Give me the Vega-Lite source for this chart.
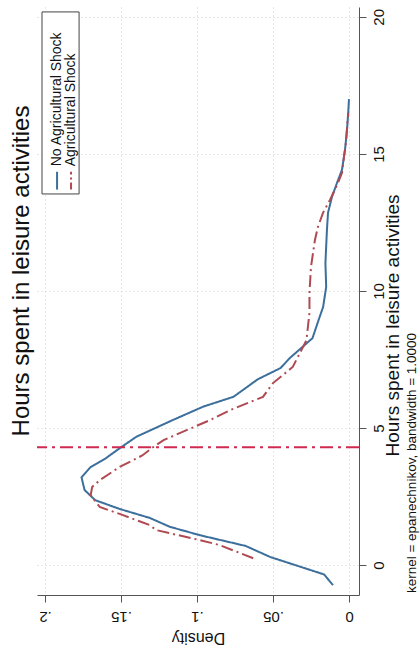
{
  "$schema": "https://vega.github.io/schema/vega-lite/v6.json",
  "width": 322,
  "height": 588,
  "autosize": {"type": "none"},
  "padding": {"left": 37, "top": 7, "right": 61, "bottom": 52},
  "background": "white",
  "title": {
    "text": "Hours spent in leisure activities",
    "orient": "left",
    "anchor": "middle",
    "font": "Liberation Sans",
    "fontSize": 24,
    "fontWeight": "normal",
    "color": "#111111",
    "offset": 2,
    "dx": 30
  },
  "config": {
    "view": {"stroke": null},
    "font": "Liberation Sans",
    "axis": {
      "labelFont": "Liberation Sans",
      "titleFont": "Liberation Sans",
      "labelColor": "#111111",
      "titleColor": "#111111",
      "titleFontWeight": "normal",
      "domainColor": "#555555",
      "tickColor": "#555555",
      "gridColor": "#cfcfcf",
      "gridDash": [1, 3],
      "gridWidth": 1,
      "labelFlush": false,
      "labelOverlap": false
    }
  },
  "datasets": {
    "curves": [
      {"series": "No Agricultural Shock", "hours": -0.73, "density": 0.0105},
      {"series": "No Agricultural Shock", "hours": -0.34, "density": 0.0164},
      {"series": "No Agricultural Shock", "hours": 0.3, "density": 0.052},
      {"series": "No Agricultural Shock", "hours": 0.7, "density": 0.068},
      {"series": "No Agricultural Shock", "hours": 1.09, "density": 0.098},
      {"series": "No Agricultural Shock", "hours": 1.4, "density": 0.118},
      {"series": "No Agricultural Shock", "hours": 1.72, "density": 0.131},
      {"series": "No Agricultural Shock", "hours": 2.05, "density": 0.151},
      {"series": "No Agricultural Shock", "hours": 2.37, "density": 0.167},
      {"series": "No Agricultural Shock", "hours": 2.74, "density": 0.174},
      {"series": "No Agricultural Shock", "hours": 3.2, "density": 0.176},
      {"series": "No Agricultural Shock", "hours": 3.58, "density": 0.17},
      {"series": "No Agricultural Shock", "hours": 3.9, "density": 0.16},
      {"series": "No Agricultural Shock", "hours": 4.26, "density": 0.151},
      {"series": "No Agricultural Shock", "hours": 4.68, "density": 0.14},
      {"series": "No Agricultural Shock", "hours": 5.29, "density": 0.116},
      {"series": "No Agricultural Shock", "hours": 5.78, "density": 0.096},
      {"series": "No Agricultural Shock", "hours": 6.14, "density": 0.076},
      {"series": "No Agricultural Shock", "hours": 6.78, "density": 0.06},
      {"series": "No Agricultural Shock", "hours": 7.19, "density": 0.045},
      {"series": "No Agricultural Shock", "hours": 7.55, "density": 0.039},
      {"series": "No Agricultural Shock", "hours": 8.28, "density": 0.024},
      {"series": "No Agricultural Shock", "hours": 8.94, "density": 0.02},
      {"series": "No Agricultural Shock", "hours": 9.42, "density": 0.017},
      {"series": "No Agricultural Shock", "hours": 10.15, "density": 0.015},
      {"series": "No Agricultural Shock", "hours": 11.02, "density": 0.0155},
      {"series": "No Agricultural Shock", "hours": 12.23, "density": 0.0145},
      {"series": "No Agricultural Shock", "hours": 12.85, "density": 0.0138},
      {"series": "No Agricultural Shock", "hours": 13.43, "density": 0.0112},
      {"series": "No Agricultural Shock", "hours": 13.94, "density": 0.0079},
      {"series": "No Agricultural Shock", "hours": 14.42, "density": 0.0046},
      {"series": "No Agricultural Shock", "hours": 15.15, "density": 0.0026},
      {"series": "No Agricultural Shock", "hours": 15.88, "density": 0.0013},
      {"series": "No Agricultural Shock", "hours": 16.5, "density": 0.0005},
      {"series": "No Agricultural Shock", "hours": 17.0, "density": 0.0},
      {"series": "Agricultural Shock", "hours": 0.25, "density": 0.063},
      {"series": "Agricultural Shock", "hours": 0.73, "density": 0.085},
      {"series": "Agricultural Shock", "hours": 0.91, "density": 0.098},
      {"series": "Agricultural Shock", "hours": 1.28, "density": 0.127},
      {"series": "Agricultural Shock", "hours": 1.46, "density": 0.131},
      {"series": "Agricultural Shock", "hours": 1.58, "density": 0.137},
      {"series": "Agricultural Shock", "hours": 1.85, "density": 0.15},
      {"series": "Agricultural Shock", "hours": 2.12, "density": 0.164},
      {"series": "Agricultural Shock", "hours": 2.55, "density": 0.17},
      {"series": "Agricultural Shock", "hours": 2.85, "density": 0.169},
      {"series": "Agricultural Shock", "hours": 3.1, "density": 0.164},
      {"series": "Agricultural Shock", "hours": 3.58, "density": 0.151},
      {"series": "Agricultural Shock", "hours": 4.0, "density": 0.136},
      {"series": "Agricultural Shock", "hours": 4.26, "density": 0.13},
      {"series": "Agricultural Shock", "hours": 4.56, "density": 0.122},
      {"series": "Agricultural Shock", "hours": 5.11, "density": 0.099},
      {"series": "Agricultural Shock", "hours": 5.29, "density": 0.0914},
      {"series": "Agricultural Shock", "hours": 5.66, "density": 0.078},
      {"series": "Agricultural Shock", "hours": 6.14, "density": 0.0566},
      {"series": "Agricultural Shock", "hours": 6.64, "density": 0.05},
      {"series": "Agricultural Shock", "hours": 7.23, "density": 0.037},
      {"series": "Agricultural Shock", "hours": 8.2, "density": 0.028},
      {"series": "Agricultural Shock", "hours": 9.2, "density": 0.026},
      {"series": "Agricultural Shock", "hours": 9.93, "density": 0.026},
      {"series": "Agricultural Shock", "hours": 10.88, "density": 0.025},
      {"series": "Agricultural Shock", "hours": 11.86, "density": 0.0224},
      {"series": "Agricultural Shock", "hours": 12.34, "density": 0.0204},
      {"series": "Agricultural Shock", "hours": 12.85, "density": 0.0171},
      {"series": "Agricultural Shock", "hours": 13.32, "density": 0.0125},
      {"series": "Agricultural Shock", "hours": 13.94, "density": 0.0072},
      {"series": "Agricultural Shock", "hours": 14.31, "density": 0.0046},
      {"series": "Agricultural Shock", "hours": 14.89, "density": 0.0033},
      {"series": "Agricultural Shock", "hours": 15.4, "density": 0.002},
      {"series": "Agricultural Shock", "hours": 16.0, "density": 0.0012},
      {"series": "Agricultural Shock", "hours": 16.5, "density": 0.0005}
    ],
    "refline": [{"hours": 4.3}],
    "legend": [{"label": "No Agricultural Shock"}, {"label": "Agricultural Shock"}],
    "note": [{"note": "kernel = epanechnikov, bandwidth = 1.0000"}]
  },
  "layer": [
    {
      "data": {"name": "curves"},
      "mark": {"type": "line", "strokeWidth": 2},
      "encoding": {
        "x": {
          "field": "density",
          "type": "quantitative",
          "scale": {"domain": [-0.0066, 0.2053], "reverse": true, "nice": false, "zero": false},
          "axis": {
            "orient": "bottom",
            "values": [0, 0.05, 0.1, 0.15, 0.2],
            "labelExpr": "datum.value == 0 ? '0' : replace(format(datum.value, '.2~f'), '0.', '.')",
            "labelAngle": 180,
            "labelAlign": "center",
            "labelBaseline": "middle",
            "labelPadding": 14,
            "labelFontSize": 15,
            "tickSize": 7,
            "title": "Density",
            "titleFontSize": 16,
            "titleAngle": 180,
            "titleAlign": "center",
            "titleBaseline": "middle",
            "titleY": 42,
            "grid": true
          }
        },
        "y": {
          "field": "hours",
          "type": "quantitative",
          "scale": {"domain": [-1.09, 20.36], "nice": false, "zero": false},
          "axis": {
            "orient": "right",
            "values": [0, 5, 10, 15, 20],
            "labelAngle": 270,
            "labelAlign": "center",
            "labelBaseline": "middle",
            "labelPadding": 12,
            "labelFontSize": 15,
            "tickSize": 7,
            "title": "Hours spent in leisure activities",
            "titleFontSize": 19,
            "titleAngle": 270,
            "titleAlign": "center",
            "titleBaseline": "middle",
            "titleX": 33,
            "titleY": 318,
            "grid": true
          }
        },
        "order": {"field": "hours", "type": "quantitative"},
        "color": {
          "field": "series",
          "type": "nominal",
          "scale": {"domain": ["No Agricultural Shock", "Agricultural Shock"], "range": ["#3d6f9c", "#b04a52"]},
          "legend": null
        },
        "strokeDash": {
          "field": "series",
          "type": "nominal",
          "scale": {"domain": ["No Agricultural Shock", "Agricultural Shock"], "range": [[1, 0], [12, 4, 2, 4]]},
          "legend": null
        }
      }
    },
    {
      "data": {"name": "refline"},
      "mark": {"type": "rule", "color": "#cf2a4f", "strokeWidth": 2, "strokeDash": [13, 5, 3, 5]},
      "encoding": {"y": {"field": "hours", "type": "quantitative"}}
    },
    {
      "data": {"name": "note"},
      "mark": {"type": "rect", "fill": "white", "stroke": "#444444", "strokeWidth": 1},
      "encoding": {
        "x": {"datum": 0.202, "type": "quantitative"},
        "x2": {"datum": 0.1776},
        "y": {"datum": 20.18, "type": "quantitative"},
        "y2": {"datum": 13.54}
      }
    },
    {
      "data": {"name": "legend"},
      "transform": [{"filter": "datum.label == 'No Agricultural Shock'"}],
      "mark": {"type": "rule", "color": "#3d6f9c", "strokeWidth": 2},
      "encoding": {
        "x": {"datum": 0.1921, "type": "quantitative"},
        "y": {"datum": 13.7, "type": "quantitative"},
        "y2": {"datum": 14.35}
      }
    },
    {
      "data": {"name": "legend"},
      "transform": [{"filter": "datum.label == 'Agricultural Shock'"}],
      "mark": {"type": "rule", "color": "#b04a52", "strokeWidth": 2, "strokeDash": [7, 3, 2, 3]},
      "encoding": {
        "x": {"datum": 0.1829, "type": "quantitative"},
        "y": {"datum": 13.7, "type": "quantitative"},
        "y2": {"datum": 14.35}
      }
    },
    {
      "data": {"name": "legend"},
      "transform": [{"filter": "datum.label == 'No Agricultural Shock'"}],
      "mark": {"type": "text", "angle": 270, "align": "left", "baseline": "middle", "fontSize": 14, "font": "Liberation Sans", "color": "#111111"},
      "encoding": {
        "x": {"datum": 0.1921, "type": "quantitative"},
        "y": {"datum": 14.55, "type": "quantitative"},
        "text": {"field": "label"}
      }
    },
    {
      "data": {"name": "legend"},
      "transform": [{"filter": "datum.label == 'Agricultural Shock'"}],
      "mark": {"type": "text", "angle": 270, "align": "left", "baseline": "middle", "fontSize": 14, "font": "Liberation Sans", "color": "#111111"},
      "encoding": {
        "x": {"datum": 0.1829, "type": "quantitative"},
        "y": {"datum": 14.55, "type": "quantitative"},
        "text": {"field": "label"}
      }
    },
    {
      "data": {"name": "note"},
      "mark": {"type": "text", "angle": 270, "align": "left", "baseline": "middle", "fontSize": 13.5, "font": "Liberation Sans", "color": "#111111"},
      "encoding": {
        "x": {"datum": -0.04145, "type": "quantitative"},
        "y": {"datum": -1.02, "type": "quantitative"},
        "text": {"field": "note"}
      }
    }
  ]
}
